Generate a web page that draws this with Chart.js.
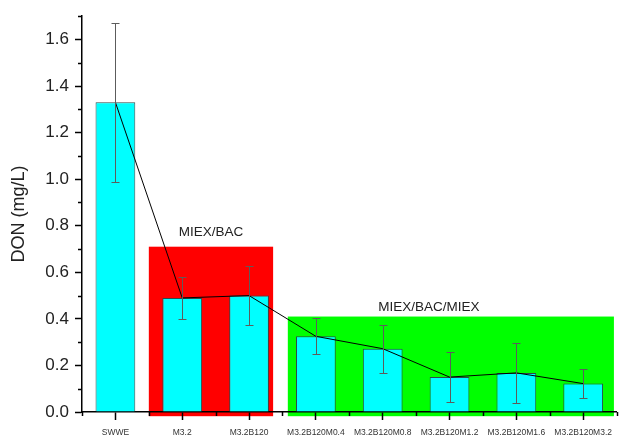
<!DOCTYPE html>
<html><head><meta charset="utf-8">
<script src="https://cdn.jsdelivr.net/npm/chart.js@4"></script>
<style>html,body{margin:0;padding:0;background:#fff}#wrap{width:620px;height:437px}</style>
</head><body><div id="wrap"><canvas id="c" width="620" height="437"></canvas></div>
<script>
const categories = ['SWWE','M3.2','M3.2B120','M3.2B120M0.4','M3.2B120M0.8','M3.2B120M1.2','M3.2B120M1.6','M3.2B120M3.2'];
const donValues = [1.33, 0.49, 0.50, 0.325, 0.272, 0.150, 0.168, 0.122];
const donErrors = [0.34, 0.09, 0.125, 0.078, 0.103, 0.109, 0.128, 0.064];
const yTickValues = [0, 0.2, 0.4, 0.6, 0.8, 1.0, 1.2, 1.4, 1.6];
const yMinorTickValues = [0.1, 0.3, 0.5, 0.7, 0.9, 1.1, 1.3, 1.5, 1.7];
const xMinorTickPositions = [-0.5, 0.5, 1.5, 2.5, 3.5, 4.5, 5.5, 6.5, 7.5];
const groupNames = ['MIEX/BAC', 'MIEX/BAC/MIEX'];
const groupStart = [0.5, 2.58];
const groupEnd = [2.36, 7.46];
const groupTop = [0.71, 0.41];
const groupBottom = [-0.018, -0.018];
const groupColors = ['#ff0000', '#00ff00'];
const groupLabelX = [1.43, 4.69];
const groupLabelY = [0.771, 0.45];

const FONT = "'Liberation Sans', Arial, sans-serif";

const decorPlugin = {
  id: 'decor',
  beforeDraw(chart) {
    const {ctx, scales: {x, y}} = chart;
    ctx.save();
    for (let i = 0; i < groupNames.length; i++) {
      const x1 = x.getPixelForValue(groupStart[i]);
      const x2 = x.getPixelForValue(groupEnd[i]);
      const y1 = y.getPixelForValue(groupTop[i]);
      const y2 = y.getPixelForValue(groupBottom[i]);
      ctx.fillStyle = groupColors[i];
      ctx.fillRect(x1, y1, x2 - x1, y2 - y1);
    }
    ctx.restore();
  },
  afterDatasetsDraw(chart) {
    const {ctx, scales: {x, y}} = chart;
    ctx.save();
    ctx.strokeStyle = '#5c5c5c';
    ctx.lineWidth = 1;
    for (let i = 0; i < donValues.length; i++) {
      const px = Math.round(x.getPixelForValue(i)) + 0.5;
      const yt = Math.round(y.getPixelForValue(donValues[i] + donErrors[i])) + 0.5;
      const yb = Math.round(y.getPixelForValue(donValues[i] - donErrors[i])) + 0.5;
      ctx.beginPath();
      ctx.moveTo(px, yt); ctx.lineTo(px, yb);
      ctx.moveTo(px - 4, yt); ctx.lineTo(px + 4, yt);
      ctx.moveTo(px - 4, yb); ctx.lineTo(px + 4, yb);
      ctx.stroke();
    }
    ctx.restore();
  },
  afterDraw(chart) {
    const {ctx, chartArea, scales: {x, y}} = chart;
    ctx.save();
    ctx.strokeStyle = '#000';
    ctx.lineWidth = 1.5;
    ctx.beginPath();
    for (const v of yMinorTickValues) {
      const py = Math.round(y.getPixelForValue(v)) + 0.5;
      ctx.moveTo(chartArea.left - 4, py); ctx.lineTo(chartArea.left, py);
    }
    for (const p of xMinorTickPositions) {
      const px = Math.round(x.getPixelForValue(p)) + 0.5;
      ctx.moveTo(px, chartArea.bottom); ctx.lineTo(px, chartArea.bottom + 4);
    }
    ctx.stroke();
    ctx.fillStyle = '#222';
    ctx.font = "13.5px " + FONT;
    ctx.textAlign = 'center';
    ctx.textBaseline = 'middle';
    for (let i = 0; i < groupNames.length; i++) {
      ctx.fillText(groupNames[i], x.getPixelForValue(groupLabelX[i]), y.getPixelForValue(groupLabelY[i]));
    }
    ctx.restore();
  }
};

new Chart(document.getElementById('c'), {
  type: 'bar',
  data: {
    labels: categories,
    datasets: [
      {
        type: 'line',
        data: donValues,
        borderColor: '#000',
        borderWidth: 1,
        pointRadius: 0,
        fill: false,
        tension: 0,
        order: 0
      },
      {
        type: 'bar',
        data: donValues,
        backgroundColor: '#00ffff',
        borderColor: '#2f4a4a',
        borderWidth: 1,
        categoryPercentage: 1,
        barPercentage: 0.595,
        order: 1
      }
    ]
  },
  options: {
    responsive: false,
    animation: false,
    devicePixelRatio: 1,
    layout: {padding: {top: 15, right: 0, bottom: 0, left: 0}},
    plugins: {legend: {display: false}, tooltip: {enabled: false}},
    scales: {
      x: {
        offset: true,
        grid: {display: true, drawOnChartArea: false, drawTicks: true, tickLength: 8, tickColor: '#000', tickWidth: 1.5, offset: false},
        border: {display: true, color: '#000', width: 1.5},
        ticks: {font: {family: FONT, size: 8.5}, color: '#333', padding: 8, maxRotation: 0, autoSkip: false},
        afterFit(s) { s.height = 25; }
      },
      y: {
        min: 0,
        max: 1.7,
        afterBuildTicks(axis) { axis.ticks = yTickValues.map(v => ({value: v})); },
        grid: {display: true, drawOnChartArea: false, drawTicks: true, tickLength: 7, tickColor: '#000', tickWidth: 1.5},
        border: {display: true, color: '#000', width: 1.5},
        ticks: {font: {family: FONT, size: 17}, color: '#222', padding: 6, callback: v => Number(v).toFixed(1)},
        title: {display: true, text: 'DON (mg/L)', font: {family: FONT, size: 18}, color: '#222', padding: {top: 8, bottom: 0}},
        afterFit(s) { s.width = 82; }
      }
    }
  },
  plugins: [decorPlugin]
});
</script>
</body></html>
